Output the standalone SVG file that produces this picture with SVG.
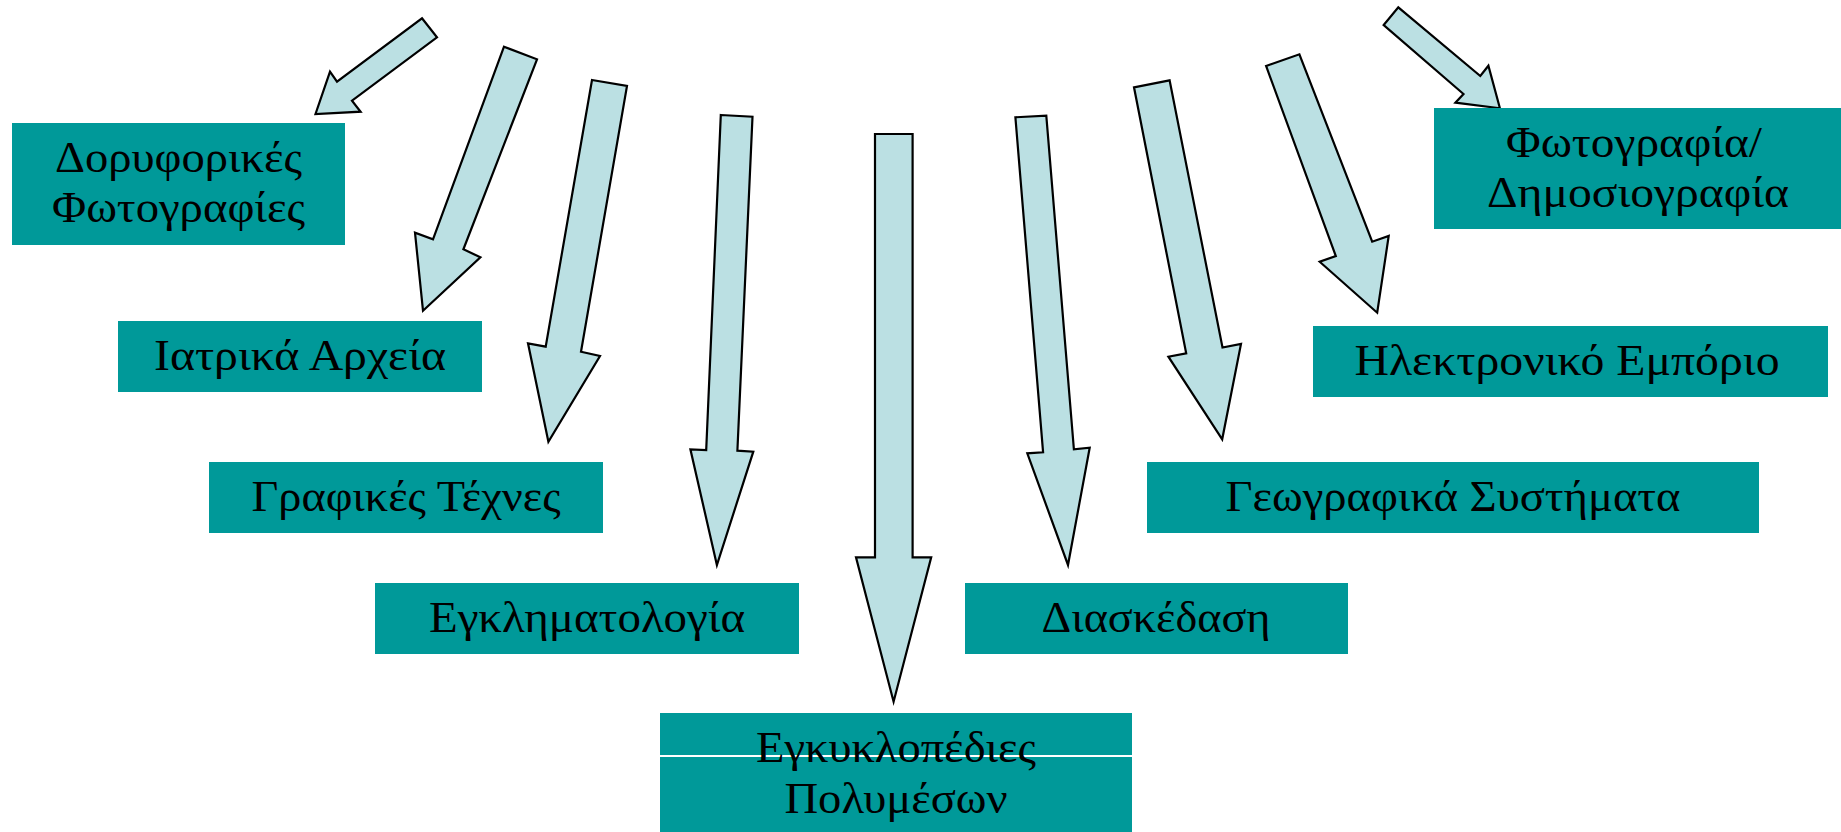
<svg xmlns="http://www.w3.org/2000/svg" width="1841" height="832" viewBox="0 0 1841 832">
<style>
.box{fill:#009999;}
.lbl{font-family:"Liberation Serif","DejaVu Serif",serif;font-size:44px;fill:#000;text-anchor:middle;}
.arr{fill:#BBE0E3;stroke:#000;stroke-width:2.2;stroke-linejoin:miter;}
</style>
<rect width="1841" height="832" fill="#ffffff"/>
<g id="connectors">
<polygon class="arr" points="422,18.3 437,37.3 352,100.7 360.6,111.7 315.5,114 330,71.7 337,81.7"/>
<polygon class="arr" points="504,46.7 537,59.3 463.4,249.3 480.4,257.3 423,310.7 415,232.7 433,239.3"/>
<polygon class="arr" points="592,80 627,86 581,351.7 600,356 548.4,441.7 528,343.3 545.7,346.7"/>
<polygon class="arr" points="720.8,115 752.5,116.7 737.4,450.7 753.3,451.7 716.9,565 690.4,449.3 706.2,450"/>
<polygon class="arr" points="875,134 912.6,134 912.6,557.3 931.2,557.3 893.6,701.7 856,557.3 875,557.3"/>
<polygon class="arr" points="1015.4,117.3 1046.3,115.7 1073.9,449.3 1089.7,447.7 1068,565 1027.3,453.3 1043.1,452.3"/>
<polygon class="arr" points="1134,87.3 1169.6,80.3 1222.5,347.5 1241,344 1222.2,439.3 1168.4,356.7 1186.2,353.3"/>
<polygon class="arr" points="1266.1,66 1299.4,54.3 1372.2,241.7 1388.7,236 1377.2,312.7 1319.7,261.7 1335.8,256"/>
<polygon class="arr" points="1383.7,25 1398.3,7.3 1480.3,76 1488.4,65.7 1499.9,108.3 1455.4,102.7 1463.5,94"/>
</g>
<g id="node-doryforikes">
<rect class="box" x="12" y="123" width="333" height="122"/>
<text class="lbl" x="178.5" y="172" textLength="247" lengthAdjust="spacingAndGlyphs">Δορυφορικές</text>
<text class="lbl" x="178.5" y="222" textLength="253" lengthAdjust="spacingAndGlyphs">Φωτογραφίες</text>
</g>
<g id="node-iatrika">
<rect class="box" x="118" y="321" width="364" height="71"/>
<text class="lbl" x="300" y="370" textLength="292" lengthAdjust="spacingAndGlyphs">Ιατρικά Αρχεία</text>
</g>
<g id="node-grafikes">
<rect class="box" x="209" y="462" width="394" height="71"/>
<text class="lbl" x="406" y="511" textLength="309" lengthAdjust="spacingAndGlyphs">Γραφικές Τέχνες</text>
</g>
<g id="node-egklimatologia">
<rect class="box" x="375" y="583" width="424" height="71"/>
<text class="lbl" x="587" y="632" textLength="316" lengthAdjust="spacingAndGlyphs">Εγκληματολογία</text>
</g>
<g id="node-egkyklopedies">
<rect class="box" x="660" y="713" width="472" height="42"/>
<rect class="box" x="660" y="757" width="472" height="75"/>
<text class="lbl" x="896" y="762" textLength="280" lengthAdjust="spacingAndGlyphs">Εγκυκλοπέδιες</text>
<text class="lbl" x="896" y="813" textLength="223" lengthAdjust="spacingAndGlyphs">Πολυμέσων</text>
</g>
<g id="node-diaskedasi">
<rect class="box" x="965" y="583" width="383" height="71"/>
<text class="lbl" x="1156" y="632" textLength="229" lengthAdjust="spacingAndGlyphs">Διασκέδαση</text>
</g>
<g id="node-geografika">
<rect class="box" x="1147" y="462" width="612" height="71"/>
<text class="lbl" x="1453" y="511" textLength="455" lengthAdjust="spacingAndGlyphs">Γεωγραφικά Συστήματα</text>
</g>
<g id="node-ilektroniko">
<rect class="box" x="1313" y="326" width="515" height="71"/>
<text class="lbl" x="1567" y="375" textLength="425" lengthAdjust="spacingAndGlyphs">Ηλεκτρονικό Εμπόριο</text>
</g>
<g id="node-fotografia">
<rect class="box" x="1434" y="108" width="407" height="121"/>
<text class="lbl" x="1634" y="157" textLength="256" lengthAdjust="spacingAndGlyphs">Φωτογραφία/</text>
<text class="lbl" x="1638" y="207" textLength="302" lengthAdjust="spacingAndGlyphs">Δημοσιογραφία</text>
</g>
</svg>
